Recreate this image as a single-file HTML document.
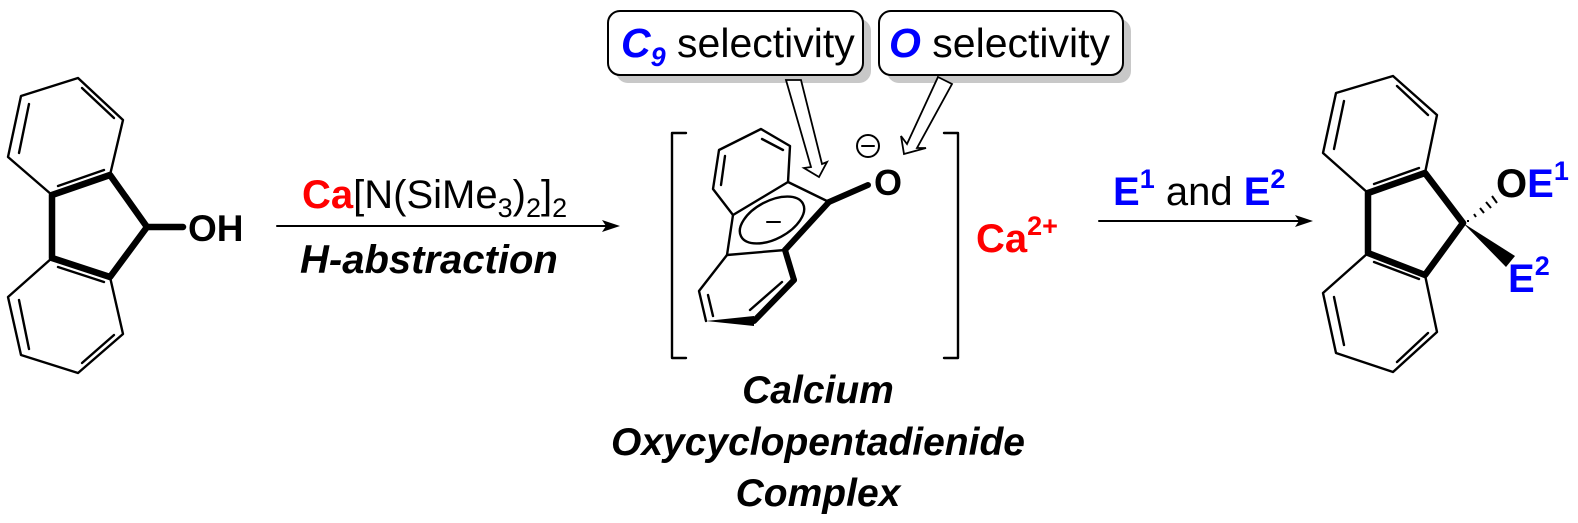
<!DOCTYPE html>
<html><head><meta charset="utf-8"><style>
html,body{margin:0;padding:0;background:#fff;}
svg{display:block;font-family:"Liberation Sans",Arial,sans-serif;}
</style></head><body>
<svg width="1578" height="523" viewBox="0 0 1578 523" xmlns="http://www.w3.org/2000/svg">
<g stroke="#000" stroke-width="2.4" fill="none" stroke-linejoin="round" stroke-linecap="round">
<polyline points="52,195 8,157 21,96 78,78 123,120 110,175"/>
<polyline points="52,258 8,297 21,355 78,373 123,334 110,277"/>
<line x1="82" y1="88" x2="114" y2="118"/><line x1="29" y1="104" x2="19" y2="153"/><line x1="58" y1="186" x2="104" y2="170"/>
<line x1="58" y1="267" x2="104" y2="282"/><line x1="19" y1="300" x2="29" y2="349"/><line x1="82" y1="363" x2="114" y2="335"/>
<g stroke-width="6.5"><polyline points="110,175 52,195 52,258 110,277 147,227 110,175"/><line x1="147" y1="227" x2="183" y2="227"/></g>
<polyline points="1368,193 1323,153 1336,93 1393,76 1437,115 1425,173"/>
<polyline points="1368,253 1323,293 1336,353 1393,372 1437,332 1425,275"/>
<line x1="1397" y1="86" x2="1428" y2="115"/><line x1="1344" y1="101" x2="1334" y2="149"/><line x1="1374" y1="184" x2="1419" y2="168"/>
<line x1="1374" y1="262" x2="1419" y2="279"/><line x1="1334" y1="297" x2="1344" y2="345"/><line x1="1397" y1="362" x2="1428" y2="333"/>
<g stroke-width="6.5"><polyline points="1425,173 1368,193 1368,253 1425,275 1463,223 1425,173"/></g>
<polyline points="788,182 790,146 761,129 719,150 713,189 733,215 788,182"/>
<line x1="762" y1="139" x2="783" y2="150"/><line x1="725" y1="156" x2="721" y2="185"/>
<polyline points="733,215 727,255 785,250"/>
<polyline points="727,255 699,291 706,321"/>
<line x1="708" y1="295" x2="713" y2="316"/><line x1="750" y1="310" x2="782" y2="282"/>
<line x1="788" y1="182" x2="829" y2="202"/>
<g stroke-width="6"><line x1="829" y1="202" x2="785" y2="250"/><line x1="785" y1="250" x2="794" y2="280"/><line x1="794" y1="280" x2="754" y2="321"/><line x1="829" y1="202" x2="868" y2="185"/></g>
<ellipse cx="772" cy="220" rx="35" ry="19" transform="rotate(-28 772 220)"/>
<line x1="767" y1="222" x2="780" y2="222" stroke-width="2"/>
<circle cx="868" cy="146" r="11" stroke-width="2"/><line x1="862" y1="146" x2="874" y2="146" stroke-width="2"/>
<polyline points="686,133 672,133 672,358 686,358"/>
<polyline points="944,133 958,133 958,358 944,358"/>
<line x1="277" y1="226" x2="608" y2="226" stroke-width="2"/>
<line x1="1099" y1="221" x2="1300" y2="221" stroke-width="2"/>
</g>
<polygon points="620,226 602,220 606,226 602,232" fill="#000"/>
<polygon points="1313,221 1295,215 1299,221 1295,227" fill="#000"/>
<polygon points="706,321 754,316 754,326" fill="#000"/>
<polygon points="1463,223 1515,256 1506,267" fill="#000"/>
<g stroke="#000" stroke-width="2"><line x1="1468" y1="220" x2="1468" y2="222"/><line x1="1474" y1="214" x2="1476" y2="217"/><line x1="1480" y1="208" x2="1484" y2="213"/><line x1="1486" y1="202" x2="1491" y2="208"/><line x1="1492" y1="196" x2="1497" y2="203"/></g>
<rect x="616" y="19" width="255" height="64" rx="12" fill="#c8c8c8"/>
<rect x="887" y="19" width="244" height="64" rx="12" fill="#c8c8c8"/>
<rect x="608" y="11" width="255" height="64" rx="12" fill="#fff" stroke="#000" stroke-width="2"/>
<rect x="879" y="11" width="244" height="64" rx="12" fill="#fff" stroke="#000" stroke-width="2"/>
<g fill="#fff" stroke="#000" stroke-width="1.8" stroke-linejoin="miter">
<polygon points="786,80 801,80 822,164 827,162 819,177 804,168 811,167"/>
<polygon points="938,77 952,84 917,148 926,148 904,154 901,136 907,144"/>
</g>
<g font-size="40">
<text x="621" y="57" font-size="41"><tspan fill="#0000ff" font-weight="bold" font-style="italic">C</tspan><tspan fill="#0000ff" font-weight="bold" font-style="italic" font-size="27" dy="9">9</tspan><tspan dy="-9"> selectivity</tspan></text>
<text x="889" y="57" font-size="41"><tspan fill="#0000ff" font-weight="bold" font-style="italic">O</tspan><tspan> selectivity</tspan></text>
<text x="188" y="241" font-weight="bold" font-size="37">OH</text>
<text x="874" y="195" font-weight="bold" font-size="36">O</text>
<text x="976" y="252" font-weight="bold" fill="#ff0000">Ca<tspan font-size="27" dy="-17">2+</tspan></text>
<text x="302" y="208"><tspan fill="#ff0000" font-weight="bold">Ca</tspan>[N(SiMe<tspan font-size="27" dy="9">3</tspan><tspan dy="-9">)</tspan><tspan font-size="27" dy="9">2</tspan><tspan dy="-9">]</tspan><tspan font-size="27" dy="9">2</tspan></text>
<text x="300" y="273" font-weight="bold" font-style="italic">H-abstraction</text>
<text x="1113" y="205"><tspan fill="#0000ff" font-weight="bold">E</tspan><tspan fill="#0000ff" font-weight="bold" font-size="27" dy="-17">1</tspan><tspan dy="17"> and </tspan><tspan fill="#0000ff" font-weight="bold">E</tspan><tspan fill="#0000ff" font-weight="bold" font-size="27" dy="-17">2</tspan></text>
<text x="1496" y="197" font-weight="bold">O<tspan fill="#0000ff">E</tspan><tspan fill="#0000ff" font-size="27" dy="-17">1</tspan></text>
<text x="1508" y="292" font-weight="bold" fill="#0000ff">E<tspan font-size="27" dy="-17">2</tspan></text>
<g font-weight="bold" font-style="italic" text-anchor="middle" font-size="39">
<text x="818" y="403">Calcium</text>
<text x="818" y="455">Oxycyclopentadienide</text>
<text x="818" y="506">Complex</text>
</g>
</g>
</svg>
</body></html>
